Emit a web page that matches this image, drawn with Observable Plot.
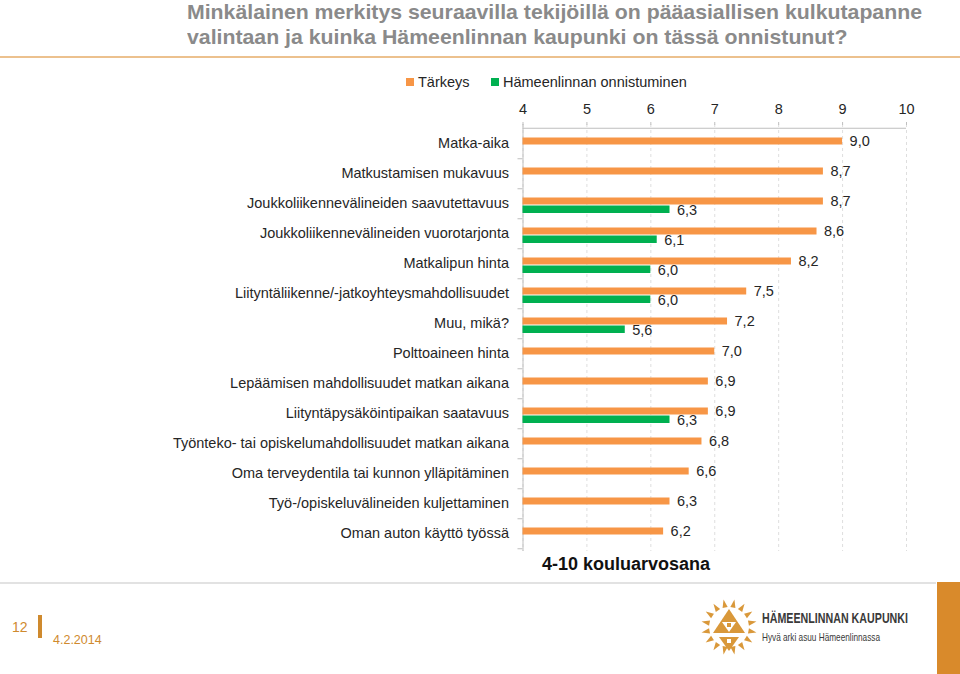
<!DOCTYPE html>
<html>
<head>
<meta charset="utf-8">
<script src="https://cdn.jsdelivr.net/npm/d3@7"></script>
<script src="https://cdn.jsdelivr.net/npm/@observablehq/plot@0.6"></script>
<style>
  body { margin: 0; background: #fff; font-family: "Liberation Sans", Arial, sans-serif; }
  #page { position: relative; width: 960px; height: 674px; overflow: hidden; background: #fff; }
  .abs { position: absolute; white-space: nowrap; }
  .title { left: 187px; font-weight: bold; font-size: 21px; color: #8a8a8a; transform-origin: 0 0; line-height: 24px; }
  .leg { font-size: 14.5px; color: #262626; line-height: 18px; }
  .sw { position: absolute; width: 8px; height: 8px; }
  #chart { position: absolute; left: 0; top: 0; }
  .foot { color: #cf8a2e; }
</style>
</head>
<body>
<div id="page">
  <div class="abs title" id="t1" style="top:0px;">Minkälainen merkitys seuraavilla tekijöillä on pääasiallisen kulkutapanne</div>
  <div class="abs title" id="t2" style="top:25px;">valintaan ja kuinka Hämeenlinnan kaupunki on tässä onnistunut?</div>
  <div class="abs" style="left:0;top:56px;width:960px;height:2px;background:#ecc18e;"></div>

  <div id="chart"></div>

  <div class="sw" style="left:406px;top:78px;background:#F79646;"></div>
  <div class="abs leg" style="left:418px;top:73px;">Tärkeys</div>
  <div class="sw" style="left:491px;top:78px;background:#00B050;"></div>
  <div class="abs leg" style="left:503px;top:73px;">Hämeenlinnan onnistuminen</div>

  <div class="abs" style="left:542px;top:553px;font-size:18px;font-weight:bold;color:#111;line-height:22px;">4-10 kouluarvosana</div>

  <div class="abs" style="left:0;top:582px;width:936px;height:2px;background:#e2e2e2;"></div>
  <div class="abs" style="left:937px;top:582px;width:23px;height:92px;background:#d98a2b;"></div>
  <div class="abs foot" style="left:12px;top:618px;font-size:14px;line-height:18px;">12</div>
  <div class="abs" style="left:38px;top:615px;width:4px;height:23px;background:#cf8a2e;"></div>
  <div class="abs foot" style="left:53px;top:633px;font-size:12.5px;line-height:15px;">4.2.2014</div>

  <svg id="logo" class="abs" style="left:690px;top:590px;" width="70" height="70"></svg>
  <div class="abs" id="l1" style="left:762px;top:610px;font-size:14px;font-weight:bold;color:#3a3a3a;line-height:17px;transform-origin:0 0;">HÄMEENLINNAN KAUPUNKI</div>
  <div class="abs" id="l2" style="left:762px;top:630px;font-size:11px;color:#3a3a3a;line-height:14px;transform-origin:0 0;">Hyvä arki asuu Hämeenlinnassa</div>
</div>
<script>
// ---- data ----
const categories = [
  "Matka-aika",
  "Matkustamisen mukavuus",
  "Joukkoliikennevälineiden saavutettavuus",
  "Joukkoliikennevälineiden vuorotarjonta",
  "Matkalipun hinta",
  "Liityntäliikenne/-jatkoyhteysmahdollisuudet",
  "Muu, mikä?",
  "Polttoaineen hinta",
  "Lepäämisen mahdollisuudet matkan aikana",
  "Liityntäpysäköintipaikan saatavuus",
  "Työnteko- tai opiskelumahdollisuudet matkan aikana",
  "Oma terveydentila tai kunnon ylläpitäminen",
  "Työ-/opiskeluvälineiden kuljettaminen",
  "Oman auton käyttö työssä"
];
const tarkeys = [9.0, 8.7, 8.7, 8.6, 8.2, 7.5, 7.2, 7.0, 6.9, 6.9, 6.8, 6.6, 6.3, 6.2];
const onnistuminen = [null, null, 6.3, 6.1, 6.0, 6.0, 5.6, null, null, 6.3, null, null, null, null];
const xTicks = [4, 5, 6, 7, 8, 9, 10];

const orangeData = categories.map((c, i) => ({category: c, value: tarkeys[i]}));
const greenData = categories.map((c, i) => ({category: c, value: onnistuminen[i]})).filter(d => d.value != null);
const fmt = d => d.value.toFixed(1).replace(".", ",");

const plotTop = 124, plotBottom = 551, plotH = 575;
const bandH = (plotBottom - plotTop) / categories.length;
const unit = (906 - 522.5) / 6;

const chart = Plot.plot({
  width: 960,
  height: plotH,
  marginLeft: 522.5,
  marginRight: 54,
  marginTop: plotTop,
  marginBottom: plotH - plotBottom,
  style: {fontFamily: "'Liberation Sans', Arial, sans-serif", fontSize: "14.5px", color: "#262626", background: "transparent"},
  x: {domain: [4, 10], ticks: xTicks},
  y: {domain: categories, paddingInner: 0, paddingOuter: 0},
  marks: [
    Plot.gridX(xTicks, {stroke: "#dedede", strokeOpacity: 1, strokeDasharray: "3,3"}),
    Plot.ruleX([4], {stroke: "#bfbfbf"}),
    Plot.ruleY([categories[0]], {x1: 4, x2: 10, dy: -bandH / 2, stroke: "#bfbfbf"}),
    Plot.ruleY(categories, {x1: 4 - 5 / unit, x2: 4, dy: bandH / 2, stroke: "#bfbfbf"}),
    Plot.axisX({anchor: "top", ticks: xTicks, tickSize: 3, tickPadding: 8, stroke: "#bfbfbf", fill: "#262626", fontSize: 14.5, label: null, tickFormat: d => String(d)}),
    Plot.axisY({tickSize: 0, tickPadding: 14, fontSize: 14.5, label: null, fill: "#262626"}),
    Plot.barX(orangeData, {x1: 4, x2: "value", y: "category", fill: "#F79646", insetTop: 9.5, insetBottom: bandH - 17}),
    Plot.barX(greenData, {x1: 4, x2: "value", y: "category", fill: "#00B050", insetTop: 17.5, insetBottom: bandH - 25.5}),
    Plot.text(orangeData, {x: "value", y: "category", text: fmt, textAnchor: "start", dx: 7, dy: -2, fontSize: 14.5, fill: "#262626"}),
    Plot.text(greenData, {x: "value", y: "category", text: fmt, textAnchor: "start", dx: 7, dy: 7, fontSize: 14.5, fill: "#262626"})
  ]
});
document.getElementById("chart").appendChild(chart);

// title & logo text horizontal fitting
function fitWidth(id, target) {
  const el = document.getElementById(id);
  const w = el.getBoundingClientRect().width;
  const s = target / w;
  el.style.transform = `scaleX(${s})`;
  return s;
}
const s = fitWidth("t1", 735);
document.getElementById("t2").style.transform = `scaleX(${s})`;
fitWidth("l1", 146);
fitWidth("l2", 118);

// logo emblem (decorative)
const logo = d3.select("#logo");
const cx = 39, cy = 37, col = "#d9983a";
for (let k = 0; k < 16; k++) {
  const a = (k / 16) * 2 * Math.PI + Math.PI / 16;
  const r1 = 20, r2 = 28, hw = 0.13;
  const p = [
    [cx + r2 * Math.sin(a), cy - r2 * Math.cos(a)],
    [cx + r1 * Math.sin(a - hw), cy - r1 * Math.cos(a - hw)],
    [cx + r1 * Math.sin(a + hw), cy - r1 * Math.cos(a + hw)]
  ];
  logo.append("polygon").attr("points", p.map(q => q.join(",")).join(" ")).attr("fill", col);
}
logo.append("polygon").attr("points", `${cx},${cy-18} ${cx-16},${cy+6} ${cx+16},${cy+6}`).attr("fill", col);
logo.append("polygon").attr("points", `${cx-7},${cy-5} ${cx+7},${cy-5} ${cx},${cy+5}`).attr("fill", "#fff");
logo.append("rect").attr("x", cx - 2).attr("y", cy - 4).attr("width", 4).attr("height", 4).attr("fill", col);
logo.append("polygon").attr("points", `${cx-10},${cy+10} ${cx+10},${cy+10} ${cx},${cy+24}`).attr("fill", col);
logo.append("rect").attr("x", cx - 2).attr("y", cy + 12).attr("width", 4).attr("height", 4).attr("fill", "#fff");
</script>
</body>
</html>
